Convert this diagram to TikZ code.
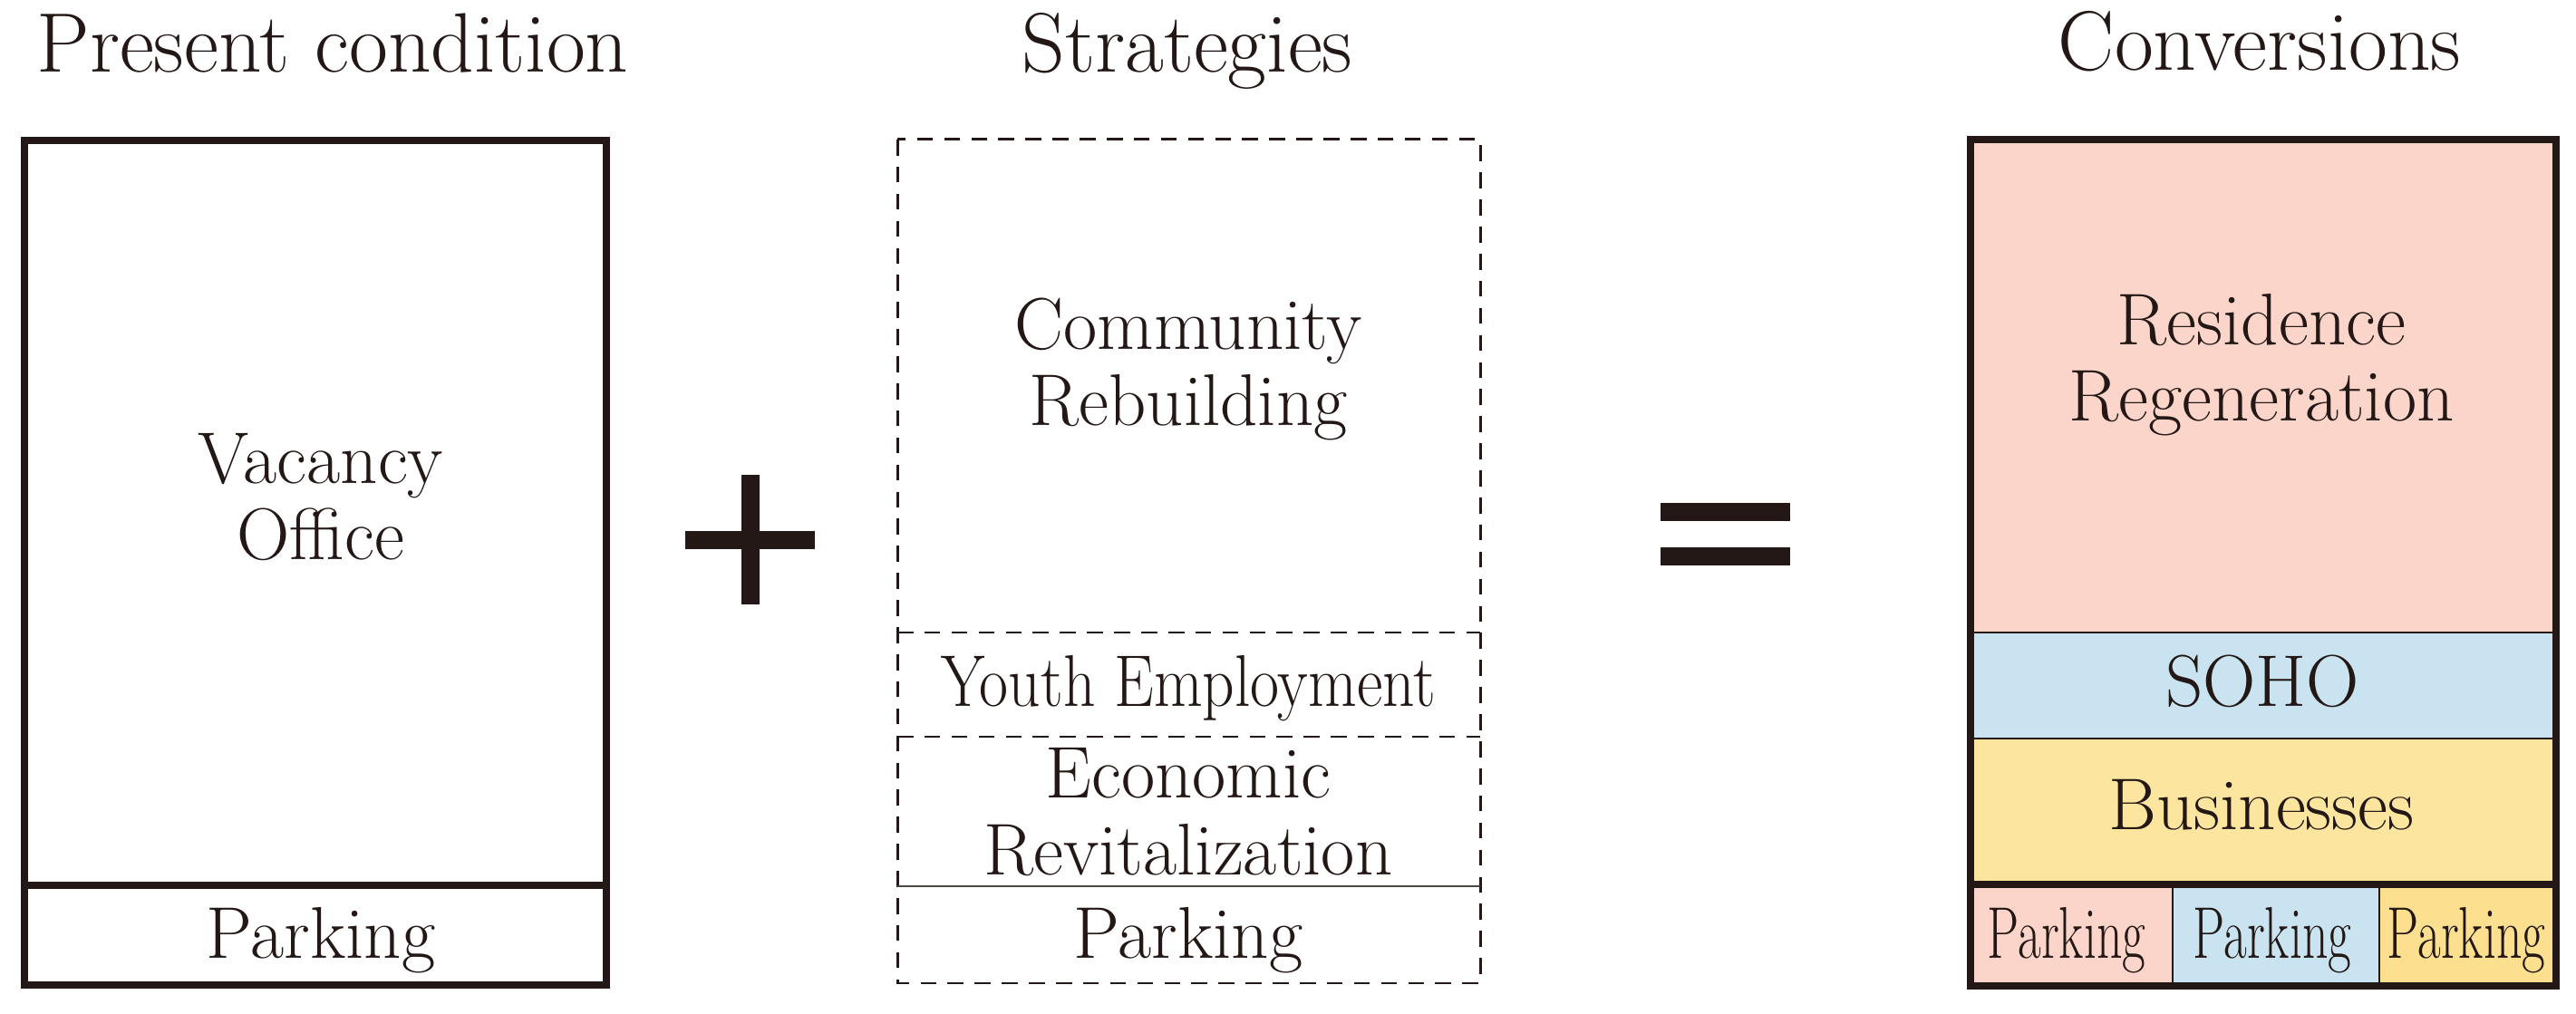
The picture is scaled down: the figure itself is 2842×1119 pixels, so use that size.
\documentclass[tikz,border=0pt]{standalone}
\usepackage{graphicx}
\definecolor{ink}{HTML}{231815}
\definecolor{respink}{HTML}{FBD5C9}
\definecolor{sohoblue}{HTML}{C9E4F0}
\definecolor{bizyellow}{HTML}{FCE59E}
\definecolor{parkyellow}{HTML}{FCE08F}

\begin{document}
\begin{tikzpicture}[x=0.01cm,y=-0.01cm,
  title/.style={anchor=base,font=\fontsize{26.5}{30}\selectfont,text=ink,inner sep=0pt},
  lbl/.style={anchor=base,align=center,font=\fontsize{23}{24}\selectfont,text=ink,inner sep=0pt},
  heavy/.style={draw=ink,line width=2.4pt},
  thin/.style={draw=ink,line width=0.8pt},
  dashline/.style={draw=ink,line width=0.85pt,dash pattern=on 5pt off 3.5pt},
  sign/.style={draw=ink,line width=5.7pt}]
  \useasboundingbox (0,0) rectangle (2842,1119);

  % titles
  \node[title] (tpres) at (367,80) {Present condition};
  \node[title] (tstra) at (1310,80) {Strategies};
  \node[title] (tconv) at (2493,78) {Conversions};

  % present condition
  \draw[heavy] (27,155) rectangle (669,1087);
  \draw[heavy] (27,977) -- (669,977);
  \node[lbl] (vac) at (354,618) {Vacancy\\Office};
  \node[lbl] (park1) at (354,1057) {Parking};

  % plus
  \draw[sign] (756,596) -- (899,596);
  \draw[sign] (828,524) -- (828,667);

  % strategies
  \draw[dashline] (990,154) rectangle (1633,1085);
  \draw[dashline] (990,698) -- (1633,698);
  \draw[dashline] (990,813) -- (1633,813);
  \draw[thin,draw=ink!80] (990,978) -- (1633,978);
  \node[lbl] (comm) at (1311,470) {Community\\Rebuilding};
  \node[lbl] (youth) at (1311,780) {\scalebox{0.86}[1]{Youth Employment}};
  \node[lbl] (econ) at (1311,965) {Economic\\Revitalization};
  \node[lbl] (park2) at (1311,1057) {Parking};

  % equals
  \draw[sign] (1832,565) -- (1975,565);
  \draw[sign] (1832,614) -- (1975,614);

  % conversions
  \fill[respink] (2174,154) rectangle (2820,698);
  \fill[sohoblue] (2174,698) rectangle (2820,815);
  \fill[bizyellow] (2174,815) rectangle (2820,976);
  \fill[respink] (2174,976) rectangle (2397,1088);
  \fill[sohoblue] (2397,976) rectangle (2625,1088);
  \fill[parkyellow] (2625,976) rectangle (2820,1088);
  \draw[thin] (2174,698) -- (2820,698);
  \draw[thin] (2174,815) -- (2820,815);
  \draw[thin] (2397,976) -- (2397,1088);
  \draw[thin] (2625,976) -- (2625,1088);
  \draw[heavy] (2174,976) -- (2820,976);
  \draw[heavy] (2174,154) rectangle (2820,1088);
  \node[lbl] (resi) at (2495,465) {Residence\\Regeneration};
  \node[lbl] (soho) at (2496,780) {SOHO};
  \node[lbl] (biz) at (2495,915) {Businesses};
  \node[lbl] (pk1) at (2280,1057) {\scalebox{0.69}[1]{Parking}};
  \node[lbl] (pk2) at (2507,1057) {\scalebox{0.69}[1]{Parking}};
  \node[lbl] (pk3) at (2721,1057) {\scalebox{0.69}[1]{Parking}};
\end{tikzpicture}
\end{document}
